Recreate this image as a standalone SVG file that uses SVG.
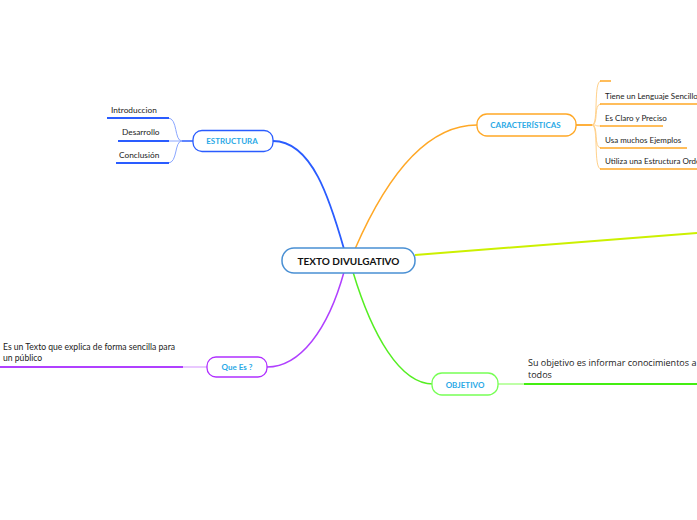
<svg xmlns="http://www.w3.org/2000/svg" width="697" height="520" viewBox="0 0 697 520">
<style>
.lbl{font-family:Lato,"Open Sans",sans-serif;font-weight:bold;font-size:8px;fill:#2aa9e6;text-anchor:middle}
.txt{font-family:Lato,"Open Sans",sans-serif;font-size:8.3px;fill:#222}
.ctx{font-family:Lato,"Open Sans",sans-serif;font-size:8px;fill:#222}
.ltx{font-family:Lato,"Open Sans",sans-serif;font-size:8.6px;fill:#222}
.big{font-family:"Open Sans","Noto Sans",sans-serif;font-size:9px;fill:#222}
.nb{fill:#fff;stroke-width:1.3}
path{fill:none}
</style>
<rect width="697" height="520" fill="#fff"/>
<g id="connectors">
  <path d="M344,249 C330,200 312,141 273,141" stroke="#2a5cff" stroke-width="1.8"/>
  <path d="M355,249 C385,180 425,125 477,125" stroke="#ffa826" stroke-width="1.5"/>
  <path d="M415,255 L697,233" stroke="#ccf000" stroke-width="2"/>
  <path d="M344,272 C328,330 300,367 267,367" stroke="#b040ff" stroke-width="1.5"/>
  <path d="M353,272 C372,335 400,384 433,384" stroke="#55ee22" stroke-width="1.5"/>
  <!-- ESTRUCTURA subs -->
  <path d="M193,141 L182,141" stroke="#2a5cff" stroke-width="1.5"/>
  <path d="M182,141 C174,141 178,118 168,118 M182,141 L168,141 M182,141 C174,141 178,163 168,163" stroke="#8aa6ff" stroke-width="1"/>
  <path d="M107,118 L169,118 M118,141 L169,141 M116,163 L169,163" stroke="#2a5cff" stroke-width="1.8"/>
  <!-- CARACTERISTICAS subs -->
  <path d="M576,125 L592,125" stroke="#ffa826" stroke-width="1.8"/>
  <path d="M592,125 C599,125 593,81 601,81 M592,125 C599,125 593,104 601,104 M592,125 C599,125 593,126 601,126 M592,125 C599,125 593,148 601,148 M592,125 C599,125 593,169 601,169" stroke="#ffd18a" stroke-width="1"/>
  <path d="M600,81 L611,81 M600,104 L697,104 M600,126 L663,126 M600,148 L687,148 M600,169 L697,169" stroke="#ffa826" stroke-width="1.5"/>
  <!-- Que Es subs -->
  <path d="M207,367 L183,367" stroke="#e2b6ff" stroke-width="1.5"/>
  <path d="M0,367 L183,367" stroke="#b040ff" stroke-width="2"/>
  <!-- OBJETIVO subs -->
  <path d="M498,384 L524,384" stroke="#a8ff88" stroke-width="1.5"/>
  <path d="M524,384 L697,384" stroke="#44ee11" stroke-width="2"/>
</g>
<g id="central">
  <rect x="282" y="248" width="133" height="25" rx="12" fill="#fff" stroke="#4a90d4" stroke-width="1.5"/>
  <text x="348.5" y="264.5" text-anchor="middle" style="font-family:Lato,'Open Sans',sans-serif;font-weight:bold;font-size:10px;fill:#111">TEXTO DIVULGATIVO</text>
</g>
<g id="estructura">
  <rect x="193" y="130.5" width="80" height="21" rx="9" class="nb" stroke="#2a5cff"/>
  <text x="232" y="144" class="lbl">ESTRUCTURA</text>
</g>
<g id="introduccion"><text x="111" y="113" class="txt">Introduccion</text></g>
<g id="desarrollo"><text x="122" y="135" class="txt">Desarrollo</text></g>
<g id="conclusion"><text x="119" y="158" class="txt">Conclusión</text></g>
<g id="caracteristicas">
  <rect x="477" y="114" width="99" height="22" rx="10" class="nb" stroke="#ffa826"/>
  <text x="525.5" y="128" class="lbl">CARACTERÍSTICAS</text>
</g>
<g id="c1"><text x="605" y="99" class="ctx">Tiene un Lenguaje Sencillo</text></g>
<g id="c2"><text x="605" y="121" class="ctx">Es Claro y Preciso</text></g>
<g id="c3"><text x="605" y="143" class="ctx">Usa muchos Ejemplos</text></g>
<g id="c4"><text x="605" y="164" class="ctx">Utiliza una Estructura Ordenada</text></g>
<g id="quees">
  <rect x="207" y="357" width="60" height="20" rx="9" class="nb" stroke="#b030ff"/>
  <text x="237" y="370" class="lbl">Que Es ?</text>
</g>
<g id="quees-text">
  <text x="3" y="350" class="ltx">Es un Texto que explica de forma sencilla para</text>
  <text x="3" y="361" class="ltx">un público</text>
</g>
<g id="objetivo">
  <rect x="432" y="373" width="66" height="22" rx="10" class="nb" stroke="#77ff55"/>
  <text x="465" y="387.5" class="lbl">OBJETIVO</text>
</g>
<g id="objetivo-text">
  <text x="528" y="366" class="big">Su objetivo es informar conocimientos a</text>
  <text x="528" y="378" class="big">todos</text>
</g>
</svg>
